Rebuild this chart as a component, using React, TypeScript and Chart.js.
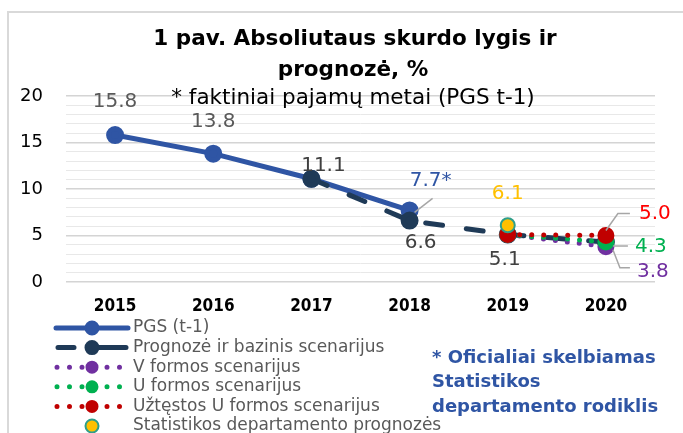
import React, { useEffect, useRef } from 'react';
import { Chart, registerables } from 'chart.js';

Chart.register(...registerables);

// ---- data ----
const years = ['2015', '2016', '2017', '2018', '2019', '2020'];
const pgs = [15.8, 13.8, 11.1, 7.7, null, null];
const baseline = [null, null, 11.1, 6.6, 5.1, 4.3];
const vShape = [null, null, null, null, 5.1, 3.8];
const uShape = [null, null, null, null, 5.1, 4.3];
const uLong = [null, null, null, null, 5.1, 5.0];
const statDept = [null, null, null, null, 6.1, null];
const yMajorTicks = [0, 5, 10, 15, 20];

const seriesNames = [
  'PGS (t-1)',
  'Prognozė ir bazinis scenarijus',
  'V formos scenarijus',
  'U formos scenarijus',
  'Užtęstos U formos scenarijus',
  'Statistikos departamento prognozės',
];
const titleLines = ['1 pav. Absoliutaus skurdo lygis ir', 'prognozė, %'];
const subtitleText = '* faktiniai pajamų metai (PGS t-1)';
const noteLines = ['* Oficialiai skelbiamas', 'Statistikos', 'departamento rodiklis'];

// ---- styles ----
const FONT = '"DejaVu Sans", sans-serif';
const FONT_C = '"DejaVu Sans Condensed", "DejaVu Sans", sans-serif';
const C_BLUE = '#2F55A4';
const C_NAVY = '#1F3A57';
const C_PURPLE = '#7030A0';
const C_GREEN = '#00B050';
const C_RED = '#C00000';
const C_YELLOW = '#FFC000';
const C_TEAL = '#2E9E8A';

// label specs: dataset index, point index, suffix, colour, offset, leader
type LabelSpec = {
  ds: number; idx: number; suffix?: string; color: string;
  dx: number; dy: number; align: CanvasTextAlign; leader?: number[][];
};
const labelSpecs: LabelSpec[] = [
  { ds: 0, idx: 0, color: '#595959', dx: 0, dy: -33, align: 'center' },
  { ds: 0, idx: 1, color: '#595959', dx: 0, dy: -32, align: 'center' },
  { ds: 0, idx: 2, color: '#404040', dx: 12, dy: -13, align: 'center' },
  { ds: 0, idx: 3, suffix: '*', color: C_BLUE, dx: 21, dy: -30, align: 'center', leader: [[5, 2], [23, -12]] },
  { ds: 1, idx: 3, color: '#404040', dx: 11, dy: 22, align: 'center' },
  { ds: 5, idx: 4, color: C_YELLOW, dx: 0, dy: -31, align: 'center' },
  { ds: 1, idx: 4, color: '#404040', dx: -3, dy: 25, align: 'center' },
  { ds: 4, idx: 5, color: '#FF0000', dx: 33, dy: -22, align: 'left', leader: [[0, -5], [12, -22], [24, -22]] },
  { ds: 3, idx: 5, color: C_GREEN, dx: 29, dy: 5, align: 'left', leader: [[7, 4], [22, 4]] },
  { ds: 2, idx: 5, color: C_PURPLE, dx: 31, dy: 25, align: 'left', leader: [[7, 3], [14, 21], [24, 21]] },
];

const fmt = (v: number) => v.toFixed(1);

const decorPlugin = {
  id: 'decor',
  beforeDraw(chart: any) {
    const ctx = chart.ctx;
    ctx.save();
    ctx.fillStyle = '#ffffff';
    ctx.fillRect(0, 0, chart.width, chart.height);
    ctx.strokeStyle = '#d9d9d9';
    ctx.lineWidth = 2;
    ctx.beginPath();
    ctx.moveTo(8, chart.height);
    ctx.lineTo(8, 12);
    ctx.lineTo(chart.width, 12);
    ctx.stroke();
    ctx.restore();
  },
  afterDatasetsDraw(chart: any) {
    const ctx = chart.ctx;
    ctx.save();
    ctx.font = `20px ${FONT}`;
    ctx.textBaseline = 'middle';
    for (const s of labelSpecs) {
      const el = chart.getDatasetMeta(s.ds).data[s.idx];
      const v = chart.data.datasets[s.ds].data[s.idx] as number;
      if (!el || v == null) continue;
      if (s.leader) {
        ctx.strokeStyle = '#A6A6A6';
        ctx.lineWidth = 1.5;
        ctx.beginPath();
        s.leader.forEach(([lx, ly], i) => {
          if (i === 0) ctx.moveTo(el.x + lx, el.y + ly);
          else ctx.lineTo(el.x + lx, el.y + ly);
        });
        ctx.stroke();
      }
      ctx.fillStyle = s.color;
      ctx.textAlign = s.align;
      ctx.fillText(fmt(v) + (s.suffix || ''), el.x + s.dx, el.y + s.dy);
    }
    ctx.restore();
  },
  afterDraw(chart: any) {
    const ctx = chart.ctx;
    ctx.save();
    ctx.textBaseline = 'alphabetic';
    ctx.textAlign = 'center';
    ctx.fillStyle = '#000000';
    ctx.font = `bold 21.5px ${FONT}`;
    ctx.fillText(titleLines[0], 355, 45);
    ctx.fillText(titleLines[1], 353, 76);
    ctx.font = `21.5px ${FONT}`;
    ctx.fillText(subtitleText, 353, 104);

    // legend
    ctx.textBaseline = 'middle';
    const ds = chart.data.datasets;
    const x0 = 56, x1 = 128, mx = 92;
    seriesNames.forEach((name, i) => {
      const y = 328 + i * 19.6;
      const d = ds[i];
      if (i < 5) {
        ctx.save();
        ctx.strokeStyle = d.borderColor;
        ctx.lineWidth = d.borderWidth;
        ctx.lineCap = 'round';
        ctx.beginPath();
        if (i === 1) {
          ctx.moveTo(x0 + 2, y);
          ctx.lineTo(x0 + 18, y);
          ctx.moveTo(mx, y);
          ctx.lineTo(x1 - 2, y);
        } else if (i >= 2) {
          ctx.setLineDash([0, 12.5]);
          ctx.moveTo(x0 + 1, y);
          ctx.lineTo(x1 - 6, y);
        } else {
          ctx.moveTo(x0, y);
          ctx.lineTo(x1, y);
        }
        ctx.stroke();
        ctx.restore();
      }
      ctx.beginPath();
      ctx.arc(mx, y, i >= 2 && i < 5 ? 5.5 : 6.5, 0, Math.PI * 2);
      ctx.fillStyle = d.pointBackgroundColor;
      ctx.fill();
      ctx.lineWidth = 2;
      ctx.strokeStyle = d.pointBorderColor;
      ctx.stroke();
      ctx.fillStyle = '#595959';
      ctx.textAlign = 'left';
      ctx.font = `17px ${FONT}`;
      ctx.fillText(name, 133, y);
    });

    // note
    ctx.fillStyle = C_BLUE;
    ctx.font = `bold 18px ${FONT}`;
    ctx.textAlign = 'left';
    noteLines.forEach((t, i) => ctx.fillText(t, 432, 358 + i * 24.5));
    ctx.restore();
  },
};

export default function App() {
  const ref = useRef<HTMLCanvasElement | null>(null);
  useEffect(() => {
    if (!ref.current) return;
    const dotted = (color: string, data: (number | null)[], order: number) => ({
      label: '', data, borderColor: color, backgroundColor: color,
      pointBackgroundColor: color, pointBorderColor: color,
      borderWidth: 5, borderDash: [0, 12], borderCapStyle: 'round',
      pointRadius: 6, pointHoverRadius: 6, order, spanGaps: false,
    });
    const chart = new Chart(ref.current, {
      type: 'line',
      data: {
        labels: years,
        datasets: [
          { label: seriesNames[0], data: pgs, borderColor: C_BLUE, backgroundColor: C_BLUE,
            pointBackgroundColor: C_BLUE, pointBorderColor: C_BLUE, borderWidth: 5,
            pointRadius: 6.5, order: 5 },
          { label: seriesNames[1], data: baseline, borderColor: C_NAVY, backgroundColor: C_NAVY,
            pointBackgroundColor: C_NAVY, pointBorderColor: C_NAVY, borderWidth: 5,
            borderDash: [17, 24], borderCapStyle: 'round', pointRadius: 6.5, order: 4 },
          { ...dotted(C_PURPLE, vShape, 3), label: seriesNames[2] },
          { ...dotted(C_GREEN, uShape, 2), label: seriesNames[3] },
          { ...dotted(C_RED, uLong, 1), label: seriesNames[4] },
          { label: seriesNames[5], data: statDept, borderColor: C_TEAL, backgroundColor: C_YELLOW,
            pointBackgroundColor: C_YELLOW, pointBorderColor: C_TEAL, pointBorderWidth: 2,
            pointRadius: 7, showLine: false, order: 0 },
        ] as any,
      },
      options: {
        responsive: false,
        animation: false,
        layout: { padding: { left: 0, top: 96, right: 28, bottom: 111 } },
        plugins: { legend: { display: false }, title: { display: false }, tooltip: { enabled: false } },
        scales: {
          x: {
            offset: true,
            grid: { display: false, drawTicks: false },
            border: { display: false },
            ticks: { color: '#000', font: { family: FONT_C, size: 17, weight: 'bold' }, padding: 14 },
            afterFit: (s: any) => { s.height = 40; },
          },
          y: {
            min: 0, max: 20,
            grid: {
              drawTicks: false,
              color: (c: any) => (c.tick && yMajorTicks.includes(c.tick.value) ? '#d4d4d4' : '#e8e8e8'),
              lineWidth: (c: any) => (c.tick && yMajorTicks.includes(c.tick.value) ? 1.5 : 1),
            },
            border: { display: false },
            ticks: {
              stepSize: 1, autoSkip: false, padding: 23, color: '#000',
              font: { family: FONT, size: 18 },
              callback: (v: any) => (yMajorTicks.includes(Number(v)) ? String(v) : ''),
            },
            afterFit: (s: any) => { s.width = 66; },
          },
        },
      } as any,
      plugins: [decorPlugin],
    });
    return () => chart.destroy();
  }, []);
  return (
    <div style={{ position: 'absolute', left: 0, top: 0, width: 683, height: 433 }}>
      <canvas ref={ref} width={683} height={433} style={{ display: 'block' }} />
    </div>
  );
}
